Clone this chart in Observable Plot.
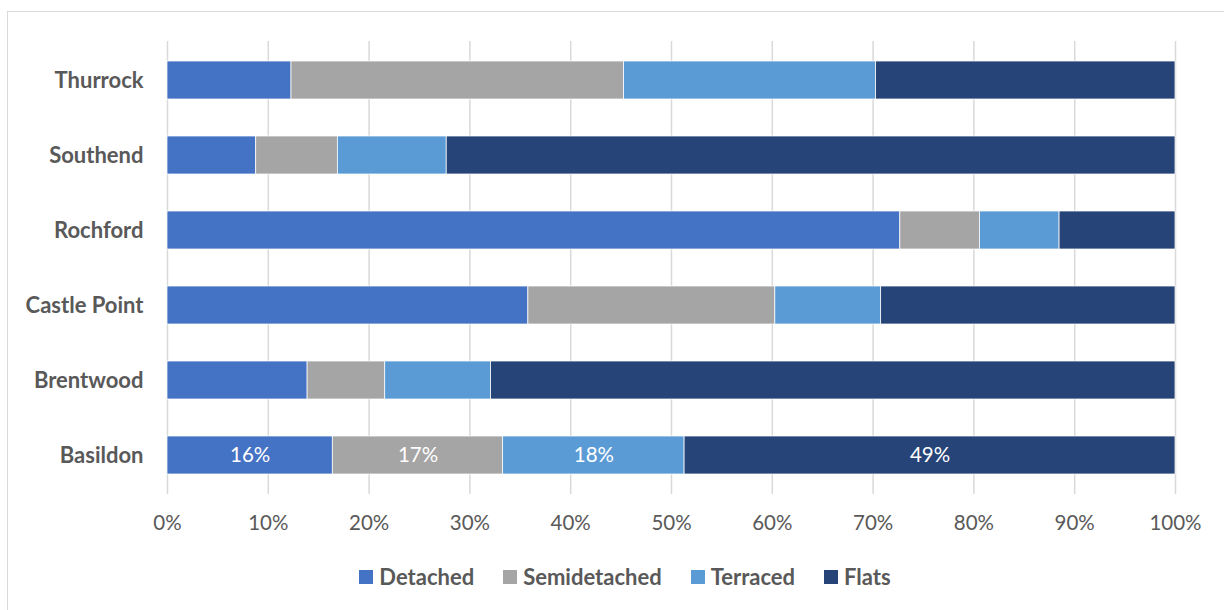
<!DOCTYPE html>
<html>
<head>
<meta charset="utf-8">
<script src="https://cdn.jsdelivr.net/npm/d3@7"></script>
<script src="https://cdn.jsdelivr.net/npm/@observablehq/plot@0.6"></script>
<style>
  html, body { margin: 0; padding: 0; background: #fff; }
  #frame {
    position: relative; width: 1224px; height: 610px; box-sizing: border-box; overflow: hidden;
    font-family: Lato, "Open Sans", sans-serif;
  }
  #border {
    position: absolute; left: 7px; top: 11px; right: -10px; bottom: -10px;
    border-left: 1.5px solid #d9d9d9; border-top: 1.5px solid #d9d9d9; pointer-events: none;
  }
  #chart { position: absolute; left: 0; top: 0; }
  #legend {
    position: absolute; left: 0; width: 1224px; top: 563px;
    display: flex; justify-content: center; gap: 29px; padding-left: 26px; box-sizing: border-box;
    font-size: 22px; font-weight: bold; color: #595959;
  }
  .item { display: flex; align-items: center; gap: 6px; }
  .sw { width: 14px; height: 14px; display: inline-block; }
</style>
</head>
<body>
<div id="frame">
  <div id="border"></div>
  <div id="chart"></div>
  <div id="legend"></div>
</div>
<script>
// Housing stock by type, share of dwellings per area (%)
const areas = ["Thurrock", "Southend", "Rochford", "Castle Point", "Brentwood", "Basildon"];
const types = ["Detached", "Semidetached", "Terraced", "Flats"];
const detached     = [12.3,  8.8, 72.7, 35.8, 13.9, 16.4];
const semidetached = [33.0,  8.1,  7.9, 24.5,  7.7, 16.9];
const terraced     = [25.0, 10.8,  7.9, 10.5, 10.5, 18.0];
const flats        = [29.7, 72.3, 11.5, 29.2, 67.9, 48.7];
const colors = ["#4472c4", "#a5a5a5", "#5b9bd5", "#264478"];
const xTicks = [0, 10, 20, 30, 40, 50, 60, 70, 80, 90, 100];
const labelledArea = "Basildon";

const series = [detached, semidetached, terraced, flats];
const rows = [];
areas.forEach((area, i) => {
  types.forEach((type, j) => rows.push({area, type, value: series[j][i]}));
});

const chart = Plot.plot({
  width: 1224,
  height: 548,
  marginTop: 41,
  marginBottom: 54,
  marginLeft: 167,
  marginRight: 49,
  style: {fontFamily: "Lato, 'Open Sans', sans-serif", color: "#595959", background: "transparent"},
  x: {domain: [0, 100], ticks: xTicks, tickFormat: d => d + "%", label: null},
  y: {domain: areas, paddingInner: 0.5, paddingOuter: 0.25, label: null},
  color: {domain: types, range: colors},
  marks: [
    Plot.gridX(xTicks, {stroke: "#d9d9d9", strokeOpacity: 1, strokeWidth: 1.5}),
    Plot.barX(rows, Plot.stackX({
      x: "value", y: "area", fill: "type", order: types,
      stroke: "#fff", strokeWidth: 0.75
    })),
    Plot.text(rows, Plot.stackX({
      filter: d => d.area === labelledArea,
      x: "value", y: "area", z: "type", order: types,
      text: d => Math.round(d.value) + "%",
      fill: "#fff", fontSize: 20.5
    })),
    Plot.axisX({ticks: xTicks, tickSize: 0, tickPadding: 21, fontSize: 20.5, tickFormat: d => d + "%", fill: "#595959"}),
    Plot.axisY({tickSize: 0, tickPadding: 24, fontSize: 22, fontWeight: "bold", fill: "#595959"})
  ]
});
document.getElementById("chart").appendChild(chart);

const legend = document.getElementById("legend");
types.forEach((t, i) => {
  const item = document.createElement("div");
  item.className = "item";
  const sw = document.createElement("span");
  sw.className = "sw";
  sw.style.background = colors[i];
  const lab = document.createElement("span");
  lab.textContent = t;
  item.append(sw, lab);
  legend.appendChild(item);
});
</script>
</body>
</html>
